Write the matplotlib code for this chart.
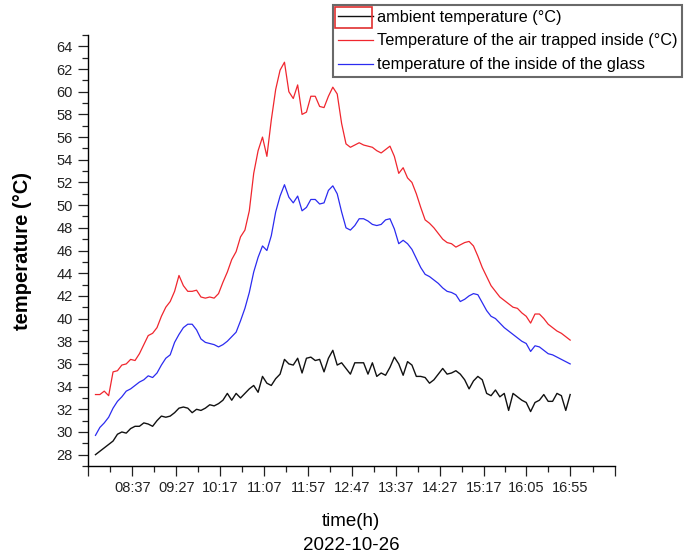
import numpy as np
import matplotlib.pyplot as plt
from matplotlib.patches import Rectangle
from matplotlib.ticker import FixedLocator

plt.rcParams['font.family'] = ['Liberation Sans', 'DejaVu Sans']

# readings every 5 minutes, 07:55 .. 16:55 (minutes after midnight)
sample_minutes = np.arange(475, 1016, 5)

ambient = [
    28.0, 28.3, 28.6, 28.9, 29.2, 29.8, 30.0, 29.9, 30.3, 30.5,
    30.5, 30.8, 30.7, 30.5, 31.0, 31.4, 31.3, 31.4, 31.7, 32.1,
    32.2, 32.1, 31.7, 32.0, 31.9, 32.1, 32.4, 32.3, 32.5, 32.8,
    33.4, 32.8, 33.4, 33.0, 33.4, 33.8, 34.1, 33.5, 34.9, 34.3,
    34.1, 34.7, 35.1, 36.4, 36.0, 35.9, 36.5, 35.2, 36.5, 36.6,
    36.3, 36.4, 35.3, 36.5, 37.2, 35.9, 36.1, 35.6, 35.1, 36.1,
    36.1, 36.1, 35.1, 36.1, 34.9, 35.2, 35.0, 35.7, 36.6, 36.0,
    35.0, 36.2, 35.9, 34.9, 34.9, 34.8, 34.3, 34.6, 35.1, 35.6,
    35.1, 35.2, 35.4, 35.1, 34.6, 33.8, 34.5, 34.9, 34.6, 33.4,
    33.2, 33.7, 33.1, 33.4, 31.9, 33.4, 33.1, 32.8, 32.6, 31.8,
    32.6, 32.8, 33.3, 32.7, 32.7, 33.4, 33.2, 31.9, 33.3,
]

air_inside = [
    33.3, 33.3, 33.6, 33.2, 35.3, 35.4, 35.9, 36.0, 36.4, 36.3,
    36.9, 37.7, 38.5, 38.7, 39.2, 40.2, 41.0, 41.5, 42.4, 43.8,
    42.9, 42.4, 42.4, 42.5, 41.9, 41.8, 41.9, 41.8, 42.2, 43.2,
    44.1, 45.2, 45.9, 47.2, 47.8, 49.5, 52.8, 54.8, 56.0, 54.3,
    57.5, 60.2, 61.9, 62.6, 60.0, 59.4, 60.6, 58.0, 58.2, 59.6,
    59.6, 58.7, 58.6, 59.6, 60.4, 59.8, 57.2, 55.4, 55.1, 55.3,
    55.5, 55.3, 55.2, 55.1, 54.8, 54.6, 54.9, 55.2, 54.3, 52.8,
    53.3, 52.4, 52.0, 51.0, 49.8, 48.7, 48.4, 48.0, 47.5, 47.0,
    46.7, 46.6, 46.3, 46.5, 46.7, 46.8, 46.4, 45.5, 44.5, 43.7,
    42.9, 42.4, 41.9, 41.6, 41.3, 41.0, 40.9, 40.5, 40.2, 39.6,
    40.4, 40.4, 40.0, 39.5, 39.2, 38.9, 38.7, 38.4, 38.1,
]

glass_inside = [
    29.7, 30.4, 30.8, 31.3, 32.1, 32.7, 33.1, 33.6, 33.8, 34.1,
    34.4, 34.6, 34.95, 34.8, 35.2, 35.9, 36.5, 36.8, 37.9, 38.6,
    39.2, 39.5, 39.5, 39.0, 38.2, 37.9, 37.8, 37.7, 37.5, 37.7,
    38.0, 38.4, 38.8, 39.8, 40.9, 42.3, 44.1, 45.4, 46.4, 46.0,
    47.3, 49.4, 50.8, 51.8, 50.7, 50.2, 50.8, 49.5, 49.8, 50.5,
    50.5, 50.1, 50.2, 51.3, 51.7, 51.0, 49.4, 48.0, 47.8, 48.2,
    48.8, 48.8, 48.6, 48.3, 48.2, 48.3, 48.7, 48.8, 47.9, 46.6,
    46.9, 46.6, 46.1, 45.3, 44.5, 43.9, 43.7, 43.4, 43.1, 42.7,
    42.4, 42.3, 42.1, 41.5, 41.7, 42.0, 42.2, 42.1, 41.4, 40.7,
    40.2, 40.0, 39.6, 39.2, 38.9, 38.6, 38.3, 38.0, 37.8, 37.1,
    37.6, 37.5, 37.2, 36.9, 36.8, 36.6, 36.4, 36.2, 36.0,
]

time_labels = ['08:37', '09:27', '10:17', '11:07', '11:57', '12:47',
               '13:37', '14:27', '15:17', '16:05', '16:55']
y_ticks = list(range(28, 65, 2))


def to_minutes(s):
    h, m = s.split(':')
    return int(h) * 60 + int(m)


fig = plt.figure(figsize=(6.86, 5.6), dpi=100)
ax = fig.add_axes([88 / 686, 1 - 466 / 560, (615 - 88) / 686, (466 - 35) / 560])

l1, = ax.plot(sample_minutes, ambient, color='#111111', lw=1.0)
l2, = ax.plot(sample_minutes, air_inside, color='#f0262e', lw=0.9)
l3, = ax.plot(sample_minutes, glass_inside, color='#2b2bf0', lw=0.9)

x_lo, x_hi = 466.5, 1066
ax.set_xlim(x_lo, x_hi)
ax.set_ylim(27, 65)

for side in ['top', 'right']:
    ax.spines[side].set_visible(False)
for side in ['left', 'bottom']:
    ax.spines[side].set_linewidth(1.0)

major_x = [x_lo] + [to_minutes(s) for s in time_labels] + [x_hi]
ax.xaxis.set_major_locator(FixedLocator(major_x))
ax.set_xticklabels([''] + time_labels + [''])
minor_x = [(a + b) / 2 for a, b in zip(major_x[:-1], major_x[1:])]
ax.xaxis.set_minor_locator(FixedLocator(minor_x))

ax.yaxis.set_major_locator(FixedLocator(y_ticks))
ax.yaxis.set_minor_locator(FixedLocator(np.arange(27, 66, 1)))

ax.tick_params(which='major', direction='out', length=7, width=0.9,
               labelsize=10.5, pad=4, colors='#222222')
ax.tick_params(which='minor', direction='out', length=4, width=0.9, colors='#222222')

ax.set_ylabel('temperature (°C)', fontsize=14.5, fontweight='bold')
ax.yaxis.set_label_coords(-0.106, 0.5)
fig.text(351 / 686, 1 - 522 / 560, 'time(h)', fontsize=13.5, ha='center', va='center')
fig.text(351 / 686, 1 - 546 / 560, '2022-10-26', fontsize=13.5, ha='center', va='center')

leg = fig.legend([l1, l2, l3],
                 ['ambient temperature (°C)',
                  'Temperature of the air trapped inside (°C)',
                  'temperature of the inside of the glass'],
                 loc='upper left', bbox_to_anchor=(333 / 686, 1 - 5 / 560),
                 fontsize=11.7, frameon=True, fancybox=False, handlelength=2.2,
                 handletextpad=0.25, labelspacing=0.55, borderpad=0.28,
                 borderaxespad=0)
leg.get_frame().set_edgecolor('#444444')
leg.get_frame().set_linewidth(1.5)

# red selection box drawn around the first legend handle
sel = Rectangle((335 / 686, 1 - 28 / 560), 37 / 686, 21 / 560,
                transform=fig.transFigure, fill=False,
                edgecolor='#e03030', lw=1.2, zorder=10)
fig.patches.append(sel)

fig.savefig('out.png', dpi=100)
